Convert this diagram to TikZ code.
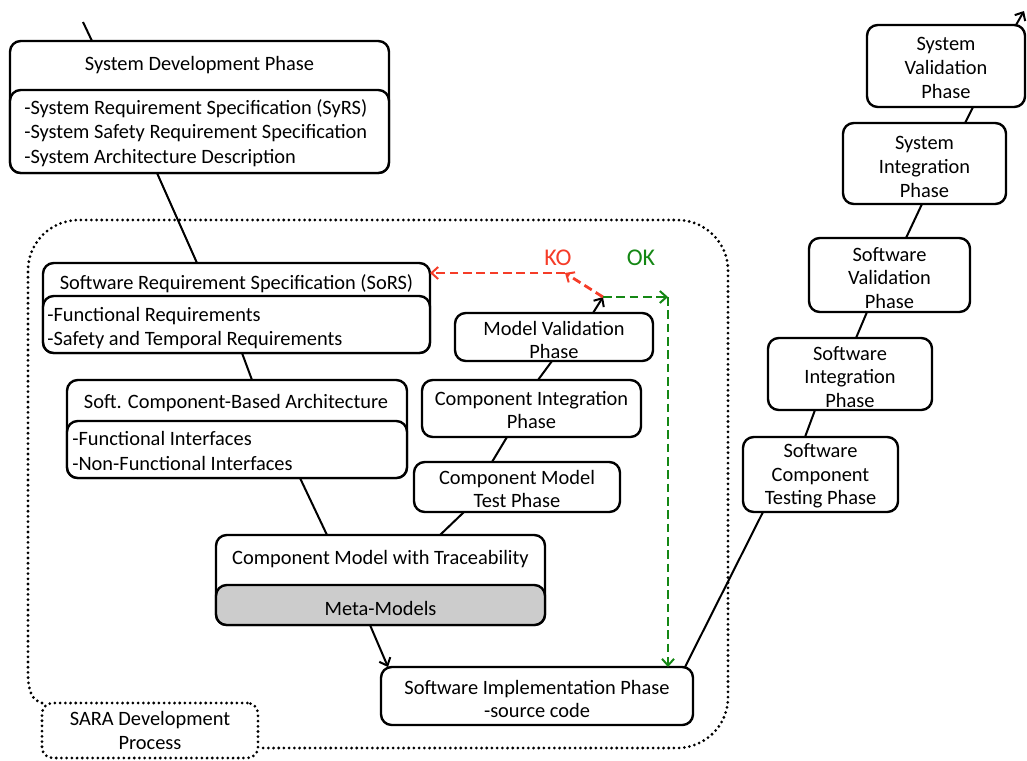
\documentclass[tikz,border=0pt]{standalone}
\usepackage{fontspec}
\setmainfont{Carlito}
\usetikzlibrary{arrows.meta,fit,calc}
\definecolor{kored}{RGB}{245,60,40}
\definecolor{okgreen}{RGB}{20,135,20}
\definecolor{metagray}{RGB}{204,204,204}
\begin{document}
\begin{tikzpicture}[x=0.75pt,y=-0.75pt,
  box/.style={draw, line width=1.8pt, rounded corners=8pt, fill=white,
    inner sep=0pt, outer sep=0pt},
  txt/.style={inner sep=0pt, align=center, font=\fontsize{15.3}{17.8}\selectfont},
  ltxt/.style={inner sep=0pt, align=left, anchor=west, font=\fontsize{15.3}{18.3}\selectfont},
  verdict/.style={inner sep=0pt, font=\fontsize{18}{20}\selectfont},
  link/.style={line width=1.5pt},
  arr/.style={line width=1.5pt, -{Straight Barb[length=5pt,width=9pt,line width=1.5pt]}},
  koarr/.style={arr, draw=kored, dash pattern=on 6.5pt off 3.5pt, line width=2.1pt},
  okarr/.style={arr, draw=okgreen, dash pattern=on 6.5pt off 3.5pt, line width=2.1pt},
  dots/.style={line width=2.3pt, dash pattern=on 0pt off 3.9pt, line cap=round}
]
\useasboundingbox (0,0) rectangle (1027,760);

% SARA development process frame
\node[box, dots, fit={(42,703) (258,758)}] (sara) {};
\node[txt] (sarat) at (sara.center) {SARA Development\\Process};
\draw[dots] (sara.north west) .. controls (32,700) and (28,692) .. (28,672)
  [rounded corners=38pt] -- (28,220) -- (728,220) -- (728,748)
  -- ($(sara.south east)+(0,-10)$);

% left branch: specification and design
\node[box, fit={(10,41) (389,173)}] (sysdev) {};
\node[box, fit={(10,90) (389,173)}] (sysdevl) {};
\node[txt] (sysdevh) at (199.5,65) {System Development Phase};
\node[ltxt] (sysdevt) at (24,133) {-System Requirement Specification (SyRS)\\-System Safety Requirement Specification\\-System Architecture Description};

\node[box, fit={(43,263) (430,353)}] (sors) {};
\node[box, fit={(43,296) (430,353)}] (sorsl) {};
\node[txt] (sorsh) at (236.5,284) {Software Requirement Specification (SoRS)};
\node[ltxt] (sorst) at (47,328) {-Functional Requirements\\-Safety and Temporal Requirements};

\node[box, fit={(67,380) (407,478)}] (cba) {};
\node[box, fit={(67,421) (407,478)}] (cbal) {};
\node[txt] (cbah) at (236,403) {Soft. Component-Based Architecture};
\node[ltxt] (cbat) at (72,451) {-Functional Interfaces\\-Non-Functional Interfaces};

\node[box, fit={(216,535) (545,625)}] (cmt) {};
\node[box, fill=metagray, fit={(216,585) (545,625)}] (meta) {};
\node[txt] (cmth) at (380.5,559) {Component Model with Traceability};
\node[txt] (metat) at (380.5,608) {Meta-Models};

\node[box, fit={(381,667) (693,725)}] (impl) {};
\node[txt] (implt) at (537,699) {Software Implementation Phase\\-source code};

% model verification steps
\node[box, fit={(455,313) (653,361)}] (mval) {};
\node[txt] (mvalt) at (554,340) {Model Validation\\Phase};
\node[box, fit={(422,380) (641,437)}] (cint) {};
\node[txt] (cintt) at (531.5,410) {Component Integration\\Phase};
\node[box, fit={(414,462) (620,512)}] (ctest) {};
\node[txt] (ctestt) at (517,489) {Component Model\\Test Phase};

% right branch: testing and validation
\node[box, fit={(743,437) (898,512)}] (swct) {};
\node[txt] (swctt) at (820.5,476) {Software\\Component\\Testing Phase};
\node[box, fit={(768,338) (932,410)}] (swint) {};
\node[txt] (swintt) at (850,377) {Software\\Integration\\Phase};
\node[box, fit={(809,238) (970,312)}] (swval) {};
\node[txt] (swvalt) at (889.5,278) {Software\\Validation\\Phase};
\node[box, fit={(843,123) (1006,204)}] (sysint) {};
\node[txt] (sysintt) at (924.5,167) {System\\Integration\\Phase};
\node[box, fit={(867,25) (1025,107)}] (sysval) {};
\node[txt] (sysvalt) at (946,68) {System\\Validation\\Phase};

% free ends
\coordinate (topin) at (83,22);
\coordinate (topout) at (1024,11);
\coordinate (P) at (603,297);
\coordinate (K) at (565,273);
\coordinate (G) at (668,297);

% connectors
\draw[link] ($(sysdev.north west)+(82,0)$) -- (topin);
\draw[link] ($(sysdev.south west)+(147,0)$) -- ($(sors.north west)+(154,0)$);
\draw[link] ($(sors.south west)+(199,0)$) -- ($(cba.north west)+(185,0)$);
\draw[link] ($(cba.south west)+(233,0)$) -- ($(cmt.north west)+(111,0)$);
\draw[link] ($(ctest.south west)+(50,0)$) -- ($(cmt.north west)+(224,0)$);
\draw[link] ($(ctest.north west)+(78,0)$) -- ($(cint.south west)+(85,0)$);
\draw[link] ($(cint.north west)+(116,0)$) -- ($(mval.south west)+(97,0)$);
\draw[arr] ($(mval.north west)+(138,0)$) -- (P);
\draw[koarr] (P) -- (K);
\draw[koarr] (K) -- (K -| sors.east);
\draw[okarr] (P) -- (G);
\draw[okarr] (G) -- (G |- impl.north);
\draw[arr] ($(meta.south west)+(154,0)$) -- ($(impl.north west)+(7,0)$);
\draw[link] ($(impl.north west)+(304,0)$) -- ($(swct.south west)+(20,0)$);
\draw[link] ($(swct.north west)+(62,0)$) -- ($(swint.south west)+(47,0)$);
\draw[link] ($(swint.north west)+(88,0)$) -- ($(swval.south west)+(58,0)$);
\draw[link] ($(swval.north west)+(97,0)$) -- ($(sysint.south west)+(79,0)$);
\draw[link] ($(sysint.north west)+(122,0)$) -- ($(sysval.south west)+(106,0)$);
\draw[arr] ($(sysval.north west)+(149,0)$) -- (topout);

% verdict labels
\node[verdict, text=kored] (ko) at (558,258) {KO};
\node[verdict, text=okgreen] (ok) at (641,258) {OK};
\end{tikzpicture}
\end{document}
